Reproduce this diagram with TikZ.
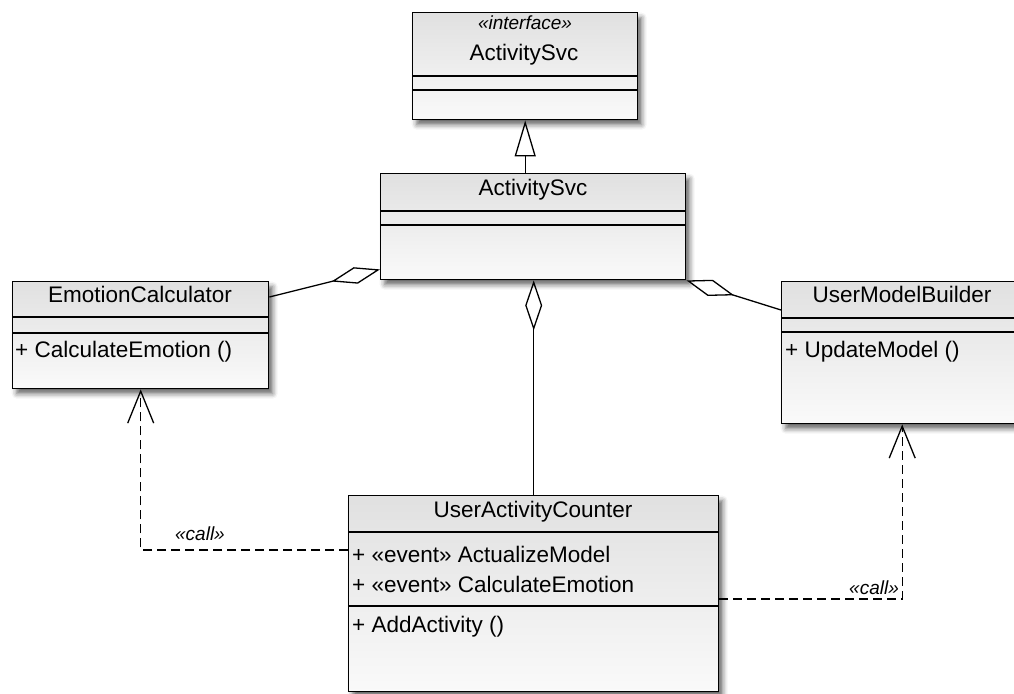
\documentclass[tikz,border=0pt]{standalone}
\usepackage{fontspec}
\setmainfont{Liberation Sans}
\usetikzlibrary{positioning, arrows.meta, calc, shadows.blur}

\begin{document}
\begin{tikzpicture}[
  x=1pt, y=-1pt,
  every node/.style={font=\fontsize{22.5}{27}\selectfont},
  box/.style={draw, line width=1.4pt, anchor=north west, inner sep=0pt,
              top color=black!12, bottom color=black!2,
              blur shadow={shadow xshift=4pt, shadow yshift=-5pt,
                           shadow blur radius=5pt, shadow opacity=60}},
  ttl/.style={anchor=base},
  mbr/.style={anchor=base west, inner sep=0pt},
  stereo/.style={font=\fontsize{19}{23}\selectfont\itshape},
  sep/.style={line width=1.4pt},
  agg/.style={-{Diamond[open, length=50pt, width=17pt]}, line width=1.3pt},
  gen/.style={-{Triangle[open, length=36pt, width=21pt]}, line width=1.3pt},
  dep/.style={-{Straight Barb[length=32pt, width=26pt]}, line width=1.3pt,
              dash pattern=on 9pt off 5pt}
]
\useasboundingbox (0,0) rectangle (1014,693);

% class boxes
\node[box, minimum width=225pt, minimum height=107pt] (iface) at (412,12) {};
\node[box, minimum width=305pt, minimum height=106pt] (svc) at (380,173) {};
\node[box, minimum width=256pt, minimum height=107pt] (emo) at (12,281) {};
\node[box, minimum width=241pt, minimum height=142pt] (umb) at (781,281) {};
\node[box, minimum width=370pt, minimum height=196pt] (uac) at (348,495) {};

% compartments
\foreach \b/\u/\v in {iface/64/78, svc/38/52, emo/36/52, umb/37/51, uac/37/111} {
  \draw[sep] ($(\b.north west)+(0,\u)$) -- ($(\b.north east)+(0,\u)$);
  \draw[sep] ($(\b.north west)+(0,\v)$) -- ($(\b.north east)+(0,\v)$);
}

% names and members
\node[ttl, stereo] (ifaceSt) at (525,30) {«interface»};
\node[ttl] (ifaceName) at (524,61) {ActivitySvc};
\node[ttl] (svcName) at (533,195) {ActivitySvc};
\node[ttl] (emoName) at (140,302) {EmotionCalculator};
\node[mbr] (emoOp) at (15,357) {+ CalculateEmotion ()};
\node[ttl] (umbName) at (902,302) {UserModelBuilder};
\node[mbr] (umbOp) at (785,357) {+ UpdateModel ()};
\node[ttl] (uacName) at (533,517) {UserActivityCounter};
\node[mbr] (uacEvA) at (352,562) {+ «event» ActualizeModel};
\node[mbr] (uacEvB) at (352,592) {+ «event» CalculateEmotion};
\node[mbr] (uacOp) at (352,632) {+ AddActivity ()};

% relations
\draw[gen] (svc.north -| iface.south) -- (iface.south);
\draw[agg] ($(emo.north east)+(0,16)$) -- ($(svc.south west)+(0,-11)$);
\draw[agg] (uac.north) -- (uac.north |- svc.south);
\draw[agg] ($(umb.north west)+(0,29)$) -- (svc.south east);

% calls
\draw[dep] ($(uac.north west)+(0,55)$) -| (emo.south);
\draw[dep] ($(uac.north east)+(0,104)$) -| (umb.south);
\node[stereo] (callL) at (200,534) {«call»};
\node[stereo] (callR) at (874,588) {«call»};
\end{tikzpicture}
\end{document}
